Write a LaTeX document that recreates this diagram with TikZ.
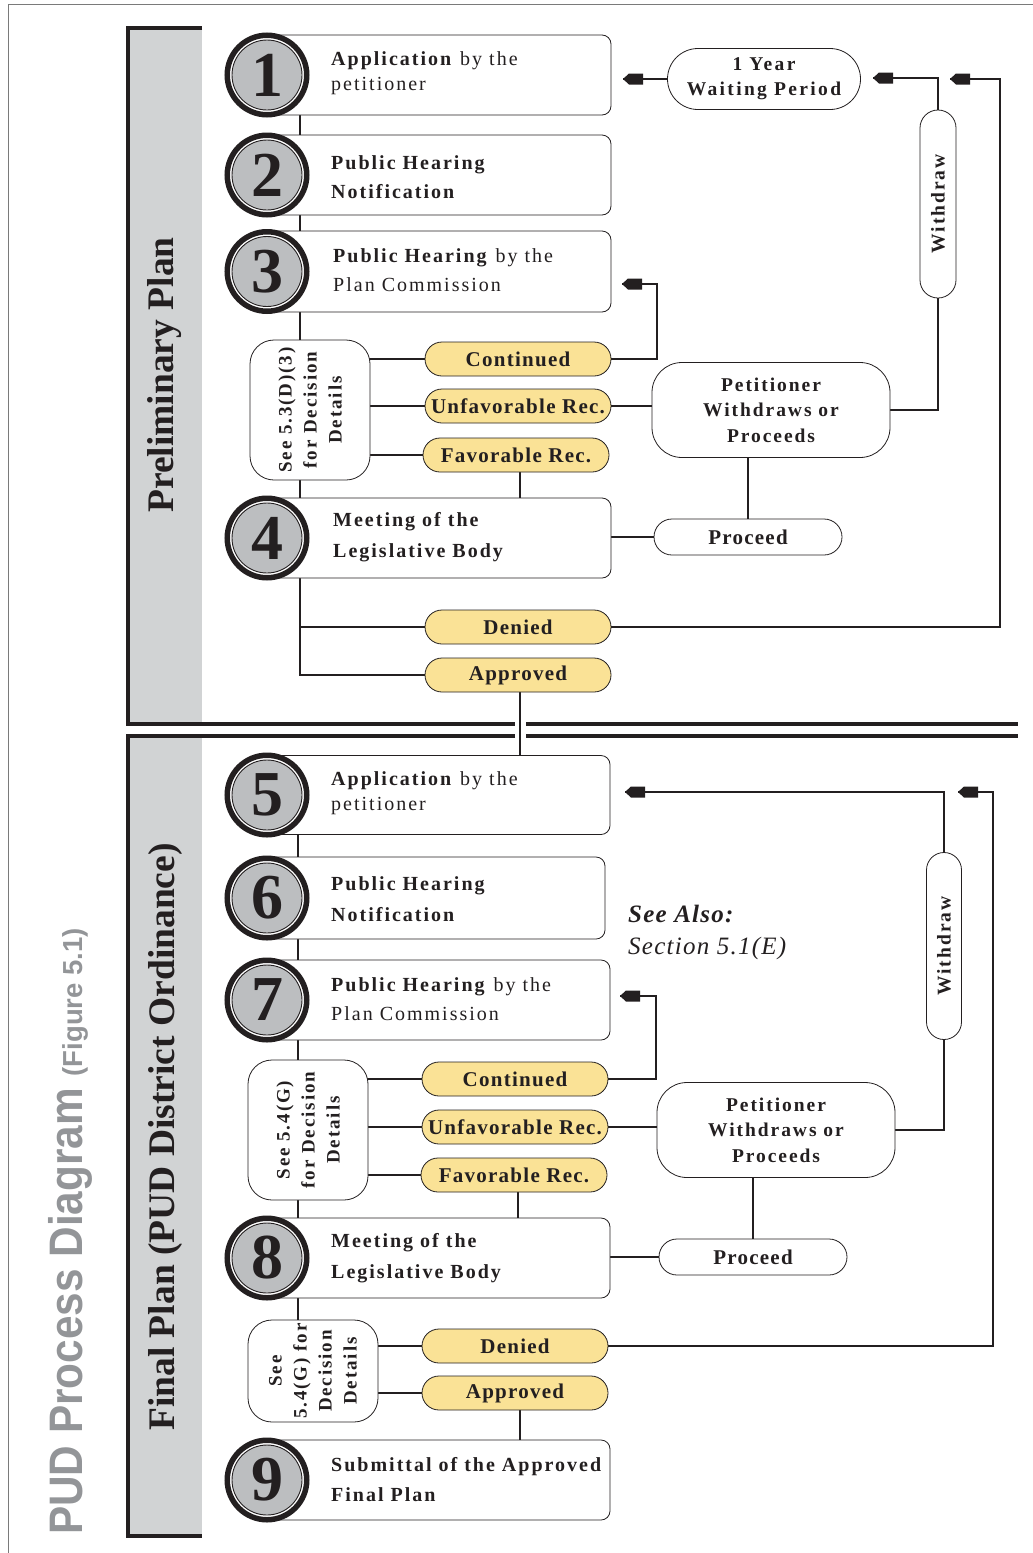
\documentclass[tikz,border=0pt]{standalone}
\usepackage{fontspec}
\setmainfont{Liberation Serif}
\newfontfamily\trackfont[LetterSpace=10]{Liberation Serif}
\newfontfamily\trackfontw[LetterSpace=12]{Liberation Serif}
\newfontfamily\trackfontb[LetterSpace=6]{Liberation Serif}
\newfontfamily\trackfontc[LetterSpace=5]{Liberation Serif}
\newfontfamily\titlefont[FakeStretch=0.9]{Liberation Sans}
\newfontfamily\titlefontr{Liberation Sans}
\usetikzlibrary{shapes.misc,backgrounds}
\definecolor{ink}{HTML}{231F20}
\definecolor{bandgray}{HTML}{D1D3D4}
\definecolor{numgray}{HTML}{BCBEC0}
\definecolor{recyellow}{HTML}{FAE296}
\definecolor{titlegray}{HTML}{939598}
\definecolor{framegray}{HTML}{7A7A7A}
\tikzset{
  conn/.style={draw=ink, line width=2pt},
  stepbox/.style={draw=ink, line width=0.8pt, fill=white, rounded corners=9pt, minimum width=344, minimum height=80, inner sep=0},
  steptext/.style={anchor=west, align=left, inner sep=0, text=ink, font=\fontsize{20}{29.5}\trackfont},
  numcirc/.style={circle, draw=ink, line width=5.5pt, fill=white, minimum size=79.5, inner sep=0, text=ink,
     font=\fontsize{64}{64}\selectfont\bfseries,
     path picture={\draw[ink, fill=numgray, line width=0.9pt] (path picture bounding box.center) circle[radius=35pt];}},
  recbox/.style={rounded rectangle, draw=ink, line width=0.8pt, fill=recyellow, minimum width=186, minimum height=34, inner sep=0, text=ink, font=\fontsize{21}{21}\trackfontb\bfseries},
  ovalbox/.style={rounded rectangle, draw=ink, line width=0.8pt, fill=white, inner sep=0, align=center, text=ink},
  seebox/.style={draw=ink, line width=0.8pt, fill=white, rounded corners=24pt, inner sep=0, align=center, text=ink, rotate=90, font=\fontsize{19}{25}\trackfont\bfseries},
  petbox/.style={draw=ink, line width=0.8pt, fill=white, rounded corners=30pt, minimum width=238, minimum height=95, inner sep=0, align=center, text=ink, font=\fontsize{19.5}{25.5}\trackfont\bfseries},
  bandline/.style={draw=ink, line width=4.5pt},
  divline/.style={draw=ink, line width=3.5pt},
  tagtip/.pic={\fill[ink] (0,0) -- (6,-5.5) -- (20,-5.5) -- (20,5.5) -- (6,5.5) -- cycle;}
}
\begin{document}
\begin{tikzpicture}[x=1pt,y=-1pt]
\useasboundingbox (0,0) rectangle (1033,1553);
% frame
\draw[framegray, line width=0.8pt] (8,1553) -- (8,4) -- (1033,4);
% bands
\fill[bandgray] (130,30) rectangle (202,722);
\fill[bandgray] (130,738) rectangle (202,1534);
\draw[bandline] (202,28) -- (128,28) -- (128,724) -- (515,724);
\draw[divline] (526,724) -- (1018,724);
\draw[bandline] (515,736) -- (128,736) -- (128,1536) -- (202,1536);
\draw[divline] (526,736) -- (1018,736);
% title and band labels
\node[rotate=90, anchor=base west, inner sep=0, text=titlegray] (title) at (82,1535)
  {\titlefont\bfseries\fontsize{47}{47}\selectfont PUD Process Diagram \titlefontr\fontsize{27.5}{27.5}\selectfont(Figure 5.1)};
\node[rotate=90, inner sep=0, text=ink, font=\fontsize{37.5}{37.5}\selectfont\bfseries] (pp) at (165,375) {Preliminary Plan};
\node[rotate=90, inner sep=0, text=ink, font=\fontsize{37.5}{37.5}\selectfont\bfseries] (fp) at (165,1137) {Final Plan (PUD District Ordinance)};

% ===== top section =====
\node[stepbox] (b1) at (439,75) {};
\node[stepbox] (b2) at (439,175) {};
\node[stepbox, minimum height=81] (b3) at (439,271.5) {};
\node[stepbox] (b4) at (439,538) {};
\node[numcirc] (c1) at (267,75) {1};
\node[numcirc] (c2) at (267,175) {2};
\node[numcirc] (c3) at (267,271.5) {3};
\node[numcirc] (c4) at (267,538) {4};
\node[steptext, font=\fontsize{20}{25.5}\trackfont] (t1) at (331,73) {\textbf{Application} by the\\petitioner};
\node[steptext, font=\fontsize{20}{29.5}\trackfont\bfseries] (t2) at (331,177) {Public Hearing\\Notification};
\node[steptext] (t3) at (333,270) {\textbf{Public Hearing} by the\\Plan Commission};
\node[steptext, font=\fontsize{20}{30.5}\trackfont\bfseries] (t4) at (333,537) {Meeting of the\\Legislative Body};

\node[seebox, minimum width=140, minimum height=120] (sa) at (310,410) {See 5.3(D)(3)\\for Decision\\Details};
\node[recbox] (ya1) at (518,359) {Continued};
\node[recbox] (ya2) at (518,406) {Unfavorable Rec.};
\node[recbox] (ya3) at (516,455) {Favorable Rec.};
\node[recbox] (ya4) at (518,627) {Denied};
\node[recbox] (ya5) at (518,675) {Approved};

\node[ovalbox, minimum width=193, minimum height=61, font=\fontsize{19.5}{25}\trackfontw\bfseries] (wp) at (764,79) {1 Year\\Waiting Period};
\node[ovalbox, rotate=90, minimum width=188, minimum height=36, font=\fontsize{19.5}{19.5}\trackfont\bfseries] (wa) at (938,204) {Withdraw};
\node[petbox] (pa) at (771,410) {Petitioner\\Withdraws or\\Proceeds};
\node[ovalbox, minimum width=188, minimum height=36, font=\fontsize{21}{21}\trackfontb\bfseries] (qa) at (748,537) {Proceed};

% ===== bottom section =====
\node[stepbox, minimum width=343, minimum height=79] (b5) at (438.5,795) {};
\node[stepbox, minimum width=338, minimum height=82] (b6) at (436,898) {};
\node[stepbox, minimum width=343] (b7) at (438.5,1000) {};
\node[stepbox, minimum width=343] (b8) at (438.5,1258) {};
\node[stepbox, minimum width=343] (b9) at (438.5,1480) {};
\node[numcirc] (c5) at (267,795) {5};
\node[numcirc] (c6) at (267,898) {6};
\node[numcirc] (c7) at (267,1000) {7};
\node[numcirc] (c8) at (267,1258) {8};
\node[numcirc] (c9) at (267,1480) {9};
\node[steptext, font=\fontsize{20}{25.5}\trackfont] (t5) at (331,793) {\textbf{Application} by the\\petitioner};
\node[steptext, font=\fontsize{20}{30.5}\trackfont\bfseries] (t6) at (331,899) {Public Hearing\\Notification};
\node[steptext] (t7) at (331,999) {\textbf{Public Hearing} by the\\Plan Commission};
\node[steptext, font=\fontsize{20}{30.5}\trackfont\bfseries] (t8) at (331,1258) {Meeting of the\\Legislative Body};
\node[steptext, font=\fontsize{20}{30}\trackfont\bfseries] (t9) at (331,1480) {Submittal of the Approved\\Final Plan};

\node[anchor=west, align=left, inner sep=0, text=ink, font=\fontsize{25}{32}\trackfontc\itshape] (sal) at (628,932) {\textbf{See Also:}\\Section 5.1(E)};

\node[seebox, minimum width=140, minimum height=120] (sb) at (308,1130) {See 5.4(G)\\for Decision\\Details};
\node[seebox, minimum width=102, minimum height=130] (sc) at (313,1371) {See\\5.4(G) for\\Decision\\Details};
\node[recbox] (yb1) at (515,1079) {Continued};
\node[recbox] (yb2) at (515,1127) {Unfavorable Rec.};
\node[recbox] (yb3) at (514,1175) {Favorable Rec.};
\node[recbox] (yb4) at (515,1346) {Denied};
\node[recbox] (yb5) at (515,1393) {Approved};

\node[ovalbox, rotate=90, minimum width=187, minimum height=35, font=\fontsize{19.5}{19.5}\trackfont\bfseries] (wb) at (944,946) {Withdraw};
\node[petbox] (pb) at (776,1130) {Petitioner\\Withdraws or\\Proceeds};
\node[ovalbox, minimum width=188, minimum height=36, font=\fontsize{21}{21}\trackfontb\bfseries] (qb) at (753,1257) {Proceed};

% helper coordinates
\coordinate (xa) at (300,0);
\coordinate (xb) at (298,0);
\coordinate (xm) at (520,0);
\coordinate (xn) at (518,0);
\coordinate (ka) at (657,0);
\coordinate (kb) at (656,0);
\coordinate (kd) at (1000,0);
\coordinate (ke) at (993,0);
\coordinate (ta3) at (622,284);
\coordinate (tw0) at (623,79);
\coordinate (tw1) at (873,78);
\coordinate (tw2) at (950,79);
\coordinate (tb3) at (620,996);
\coordinate (tb1) at (625,792);
\coordinate (tb2) at (958,792);

\begin{scope}[on background layer]
% top
\draw[conn] (b1.center -| xa) -- (b2.center -| xa);
\draw[conn] (b2.center -| xa) -- (b3.center -| xa);
\draw[conn] (b3.center -| xa) -- (sa.center -| xa);
\draw[conn] (sa.center -| xa) -- (b4.center -| xa);
\draw[conn] (sa.center |- ya1) -- (ya1.center);
\draw[conn] (sa.center |- ya2) -- (ya2.center);
\draw[conn] (sa.center |- ya3) -- (ya3.center);
\draw[conn] (ya3.center -| xm) -- (b4.center -| xm);
\draw[conn] (ya1.center) -| (ka |- ta3) -- (ta3);
\draw[conn] (ya2.center) -- (ya2.center -| pa.center);
\draw[conn] (qa.center) -- (qa.center |- pa.center);
\draw[conn] (qa.center) -- (qa.center -| b4.center);
\draw[conn] (pa.center) -| (wa.center);
\draw[conn] (wa.center) |- (tw1);
\draw[conn] (wp.center) -- (tw0);
\draw[conn] (ya4.center) -| (kd |- tw2) -- (tw2);
\draw[conn] (b4.center -| xa) |- (ya5.center);
\draw[conn] (ya4.center) -- (ya4.center -| xa);
\draw[draw=ink, line width=1.5pt] (ya5.center -| xm) -- (b5.center -| xm);
% bottom
\draw[conn] (b5.center -| xb) -- (b6.center -| xb);
\draw[conn] (b6.center -| xb) -- (b7.center -| xb);
\draw[conn] (b7.center -| xb) -- (sb.center -| xb);
\draw[conn] (sb.center -| xb) -- (b8.center -| xb);
\draw[conn] (b8.center -| xb) -- (sc.center -| xb);
\draw[conn] (sb.center |- yb1) -- (yb1.center);
\draw[conn] (sb.center |- yb2) -- (yb2.center);
\draw[conn] (sb.center |- yb3) -- (yb3.center);
\draw[conn] (yb3.center -| xn) -- (b8.center -| xn);
\draw[conn] (yb1.center) -| (kb |- tb3) -- (tb3);
\draw[conn] (yb2.center) -- (yb2.center -| pb.center);
\draw[conn] (qb.center) -- (qb.center |- pb.center);
\draw[conn] (qb.center) -- (qb.center -| b8.center);
\draw[conn] (pb.center) -| (wb.center);
\draw[conn] (wb.center) |- (tb1);
\draw[conn] (yb4.center) -| (ke |- tb2) -- (tb2);
\draw[conn] (sc.center |- yb4) -- (yb4.center);
\draw[conn] (sc.center |- yb5) -- (yb5.center);
\draw[conn] (yb5.center -| xm) -- (b9.center -| xm);
\end{scope}

% arrow tips
\pic at (ta3) {tagtip};
\pic at (tw0) {tagtip};
\pic at (tw1) {tagtip};
\pic at (tw2) {tagtip};
\pic at (tb3) {tagtip};
\pic at (tb1) {tagtip};
\pic at (tb2) {tagtip};
\end{tikzpicture}
\end{document}
